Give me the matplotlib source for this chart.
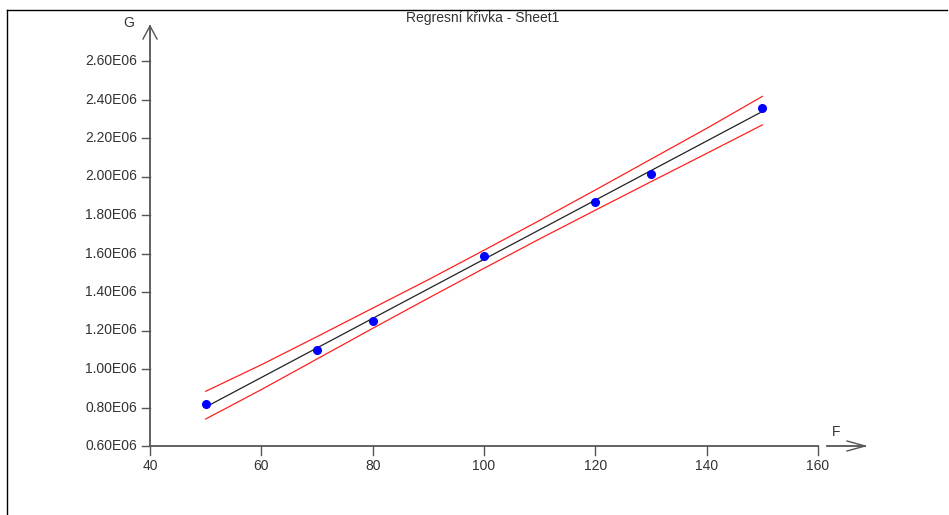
import numpy as np
import matplotlib
matplotlib.use('Agg')
import matplotlib.pyplot as plt
from matplotlib.lines import Line2D

plt.rcParams['font.family'] = ['Liberation Sans', 'DejaVu Sans']

# measured points (F, G)
F = [50, 70, 80, 100, 120, 130, 150]
G = [818000, 1099000, 1249000, 1587000, 1868000, 2013000, 2356000]

# band
band_x = [50, 60, 70, 80, 90, 100, 110, 120, 130, 140, 150]
band_hi = [884000, 1022000, 1168000, 1316000, 1464000, 1617000, 1772000, 1930000, 2090000, 2250000, 2416000]
band_lo = [740000, 893000, 1052000, 1211000, 1368000, 1523000, 1676000, 1825000, 1973000, 2120000, 2268000]

xticks = [40, 60, 80, 100, 120, 140, 160]
yticks = [600000, 800000, 1000000, 1200000, 1400000, 1600000, 1800000,
          2000000, 2200000, 2400000, 2600000]

title = 'Regresní křivka - Sheet1'

TXT = '#333333'
AX = '#555555'
FS = 10

fig = plt.figure(figsize=(9.49, 5.15), dpi=100)
W, H = 949.0, 515.0

# axes placed so 40..160 -> px 150..818 and 0.6E6..2.6E6 -> px 446..61
ax = fig.add_axes([150 / W, (H - 446) / H, 668 / W, 385 / H])
ax.set_xlim(40, 160)
ax.set_ylim(600000, 2600000)
for s in ax.spines.values():
	s.set_visible(False)
ax.set_xticks([])
ax.set_yticks([])

# regression line
k, q = np.polyfit(F, G, 1)
xs = np.array([F[0], F[-1]])
ax.plot(xs, k * xs + q, color='#222222', linewidth=0.9, zorder=3)

ax.plot(band_x, band_hi, color='#ff2020', linewidth=0.9, zorder=2)
ax.plot(band_x, band_lo, color='#ff2020', linewidth=0.9, zorder=2)

ax.plot(F, G, 'o', color='#0000ff', markersize=5.5, zorder=4)

# axis lines
ax.plot([0, 0], [0, 1], transform=ax.transAxes, color=AX, linewidth=1.3, clip_on=False)
ax.plot([0, 1], [0, 0], transform=ax.transAxes, color=AX, linewidth=1.3, clip_on=False)

# y arrow
ax.plot([0, 0], [1, 1 + 35 / 385.0], transform=ax.transAxes, color=AX, linewidth=1.3, clip_on=False)
ax.plot([-7 / 668.0, 0, 7 / 668.0], [1 + 22 / 385.0, 1 + 35 / 385.0, 1 + 22 / 385.0],
	transform=ax.transAxes, color=AX, linewidth=1.0, clip_on=False)
# x arrow (with small gap after the axis)
ax.plot([1 + 9 / 668.0, 1 + 47 / 668.0], [0, 0], transform=ax.transAxes, color=AX, linewidth=1.3, clip_on=False)
ax.plot([1 + 29 / 668.0, 1 + 47 / 668.0, 1 + 29 / 668.0], [5 / 385.0, 0, -5 / 385.0],
	transform=ax.transAxes, color=AX, linewidth=1.0, clip_on=False)

# ticks + labels
for t in xticks:
	xf = (t - 40) / 120.0
	ax.plot([xf, xf], [0, -9 / 385.0], transform=ax.transAxes, color=AX, linewidth=1.0, clip_on=False)
	ax.text(xf, -13 / 385.0, str(t), transform=ax.transAxes, ha='center', va='top',
		fontsize=FS, color=TXT)
for t in yticks:
	yf = (t - 600000) / 2000000.0
	ax.plot([-8 / 668.0, 0], [yf, yf], transform=ax.transAxes, color=AX, linewidth=1.0, clip_on=False)
	ax.text(-13 / 668.0, yf, '%.2fE06' % (t / 1e6), transform=ax.transAxes, ha='right',
		va='center', fontsize=FS, color=TXT)

ax.text(-21 / 668.0, 1 + 38 / 385.0, 'G', transform=ax.transAxes, ha='center', va='center',
	fontsize=FS, color=TXT)
ax.text(1 + 18 / 668.0, 14 / 385.0, 'F', transform=ax.transAxes, ha='center', va='center',
	fontsize=FS, color=TXT)

fig.text(483 / W, 1 - 18 / H, title, ha='center', va='center', fontsize=FS, color=TXT)

# frame lines (top and left)
fig.add_artist(Line2D([7 / W, 947 / W], [1 - 10 / H, 1 - 10 / H], color='black', linewidth=1.0))
fig.add_artist(Line2D([7 / W, 7 / W], [0, 1 - 10 / H], color='black', linewidth=1.0))

fig.savefig('out.png', dpi=100)
plt.close()
